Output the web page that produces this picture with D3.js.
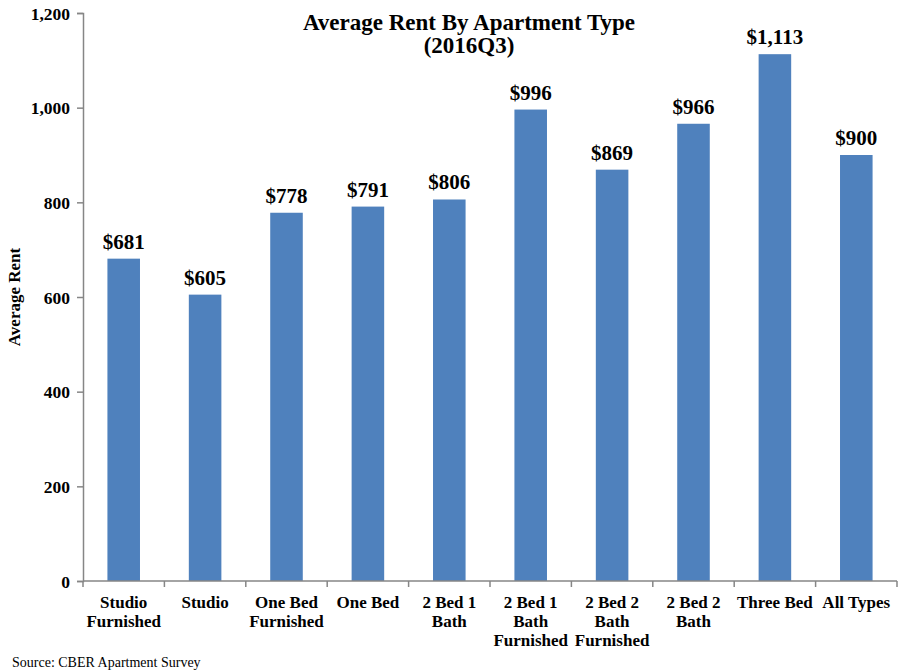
<!DOCTYPE html>
<html>
<head>
<meta charset="utf-8">
<script src="https://cdn.jsdelivr.net/npm/d3@7"></script>
<style>
  body { margin: 0; background: #fff; }
  text { font-family: "Liberation Serif", "DejaVu Serif", serif; }
</style>
</head>
<body>
<svg class="chart" width="904" height="672"></svg>
<script>
const categories = [
  ["Studio", "Furnished"],
  ["Studio"],
  ["One Bed", "Furnished"],
  ["One Bed"],
  ["2 Bed 1", "Bath"],
  ["2 Bed 1", "Bath", "Furnished"],
  ["2 Bed 2", "Bath", "Furnished"],
  ["2 Bed 2", "Bath"],
  ["Three Bed"],
  ["All Types"]
];
const rents = [681, 605, 778, 791, 806, 996, 869, 966, 1113, 900];
const yTicks = [0, 200, 400, 600, 800, 1000, 1200];

function drawChart() {
  const margin = {top: 13, right: 7, bottom: 91, left: 83};
  const width = 904;
  const height = 672;
  const barColor = '#4F81BD';
  const axisColor = '#868686';

  const data = categories.map((c, i) => ({key: i, lines: c, value: rents[i]}));

  const x = d3.scaleBand()
              .domain(data.map(d => d.key))
              .range([margin.left, width - margin.right])
              .paddingInner(0.6)
              .paddingOuter(0.3);

  const y = d3.scaleLinear()
              .domain([0, 1200])
              .range([height - margin.bottom, margin.top]);

  const svg = d3.select('svg.chart');

  // bars
  svg.selectAll('rect.bar')
     .data(data)
     .enter()
     .append('rect')
     .classed('bar', true)
     .attr('x', d => x(d.key))
     .attr('y', d => y(d.value))
     .attr('width', x.bandwidth())
     .attr('height', d => y(0) - y(d.value))
     .style('fill', barColor);

  // value labels
  svg.selectAll('text.val')
     .data(data)
     .enter()
     .append('text')
     .classed('val', true)
     .attr('x', d => x(d.key) + x.bandwidth() / 2)
     .attr('y', d => y(d.value) - 10)
     .attr('text-anchor', 'middle')
     .style('font-size', '21px')
     .style('font-weight', 'bold')
     .text(d => '$' + d3.format(',')(d.value));

  // y axis
  const yAxis = svg.append('g')
     .attr('transform', `translate(${margin.left},0)`)
     .call(d3.axisLeft(y).tickValues(yTicks).tickSize(6).tickFormat(d3.format(',')));
  yAxis.selectAll('path, line').attr('stroke', axisColor).attr('stroke-width', 1.5);
  yAxis.selectAll('text')
       .attr('x', -13)
       .attr('dy', '0.35em')
       .style('font-size', '17.5px')
       .style('font-weight', 'bold')
       .style('font-family', '"Liberation Serif", serif')
       .attr('fill', '#000');

  // x axis with ticks between categories
  const xStart = margin.left;
  const xEnd = width - margin.right;
  const gx = svg.append('g').attr('transform', `translate(0,${y(0)})`);
  gx.append('line')
    .attr('x1', xStart).attr('x2', xEnd)
    .attr('stroke', axisColor).attr('stroke-width', 1.5);
  const bounds = d3.range(categories.length + 1).map(i => xStart + i * (xEnd - xStart) / categories.length);
  gx.selectAll('line.tk')
    .data(bounds)
    .enter()
    .append('line')
    .classed('tk', true)
    .attr('x1', d => d).attr('x2', d => d)
    .attr('y1', 0).attr('y2', 6)
    .attr('stroke', axisColor).attr('stroke-width', 1.5);

  const lbl = gx.selectAll('text.cat')
    .data(data)
    .enter()
    .append('text')
    .classed('cat', true)
    .attr('text-anchor', 'middle')
    .style('font-size', '17px')
    .style('font-weight', 'bold');
  lbl.selectAll('tspan')
     .data(d => d.lines.map(l => ({l: l, k: d.key})))
     .enter()
     .append('tspan')
     .attr('x', d => x(d.k) + x.bandwidth() / 2)
     .attr('y', (d, i) => 27 + i * 19)
     .text(d => d.l);

  // titles
  svg.append('text')
     .attr('x', 469).attr('y', 30)
     .attr('text-anchor', 'middle')
     .style('font-size', '23px').style('font-weight', 'bold')
     .text('Average Rent By Apartment Type');
  svg.append('text')
     .attr('x', 469).attr('y', 53)
     .attr('text-anchor', 'middle')
     .style('font-size', '23px').style('font-weight', 'bold')
     .text('(2016Q3)');

  svg.append('text')
     .attr('transform', 'translate(20,297) rotate(-90)')
     .attr('text-anchor', 'middle')
     .style('font-size', '17px').style('font-weight', 'bold')
     .text('Average Rent');

  svg.append('text')
     .attr('x', 12).attr('y', 667)
     .style('font-size', '14px')
     .text('Source: CBER Apartment Survey');
}

drawChart();
</script>
</body>
</html>
